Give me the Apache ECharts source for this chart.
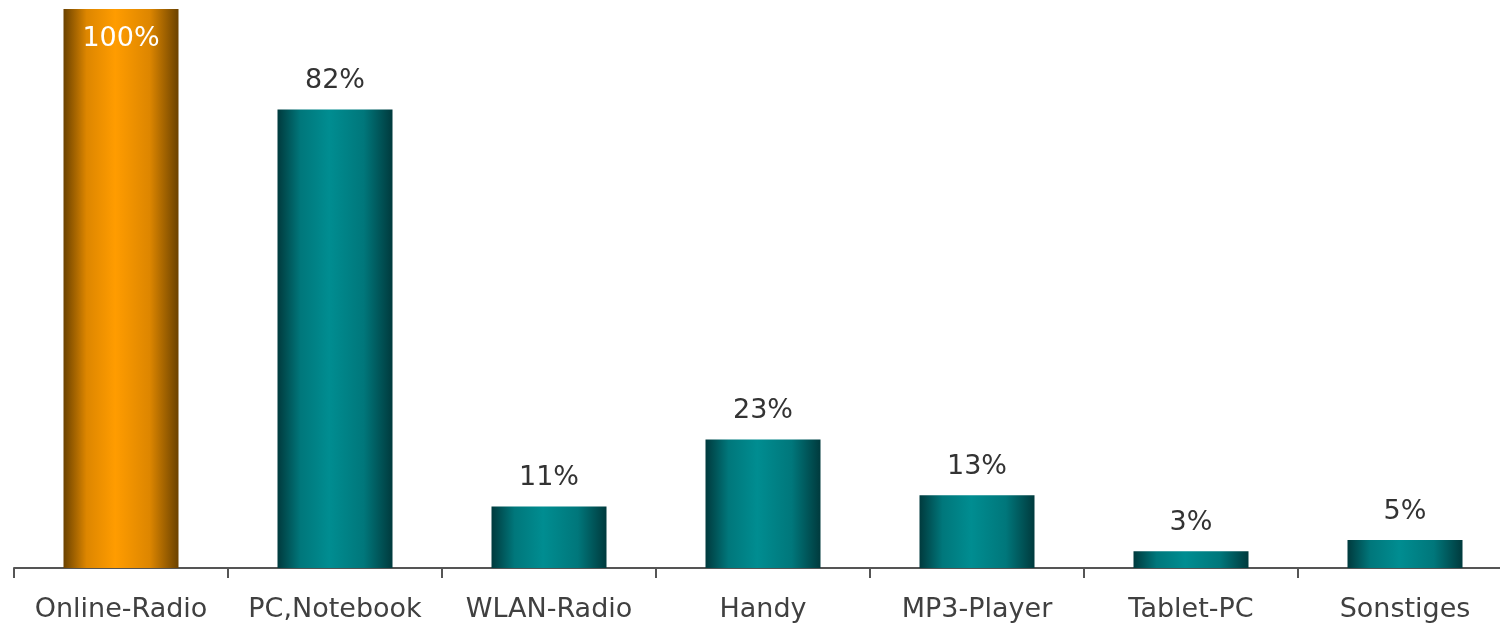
<!DOCTYPE html>
<html>
<head>
<meta charset="utf-8">
<script src="https://cdn.jsdelivr.net/npm/echarts@6/dist/echarts.min.js"></script>
<style>
html,body{margin:0;padding:0;background:#fff;overflow:hidden;width:1500px;height:623px;}
#chart{width:1512px;height:623px;}
</style>
</head>
<body>
<div id="chart"></div>
<script>
const categories = ['Online-Radio', 'PC,Notebook', 'WLAN-Radio', 'Handy', 'MP3-Player', 'Tablet-PC', 'Sonstiges'];
const values = [100, 82, 11, 23, 13, 3, 5];

function grad(dark, mid, light) {
  return new echarts.graphic.LinearGradient(0, 0, 1, 0, [
    {offset: 0, color: dark},
    {offset: 0.2, color: mid},
    {offset: 0.45, color: light},
    {offset: 0.75, color: mid},
    {offset: 1, color: dark}
  ]);
}
const orange = grad('#6b4200', '#dd8600', '#ff9c00');
const teal = grad('#003a3d', '#00777b', '#008d91');

const chart = echarts.init(document.getElementById('chart'));
chart.setOption({
  animation: false,
  grid: {left: 14, right: 0, top: 9, bottom: 55, containLabel: false},
  xAxis: {
    type: 'category',
    data: categories,
    axisLine: {lineStyle: {color: '#555555', width: 2}},
    axisTick: {show: true, length: 10, lineStyle: {color: '#555555', width: 2}},
    axisLabel: {color: '#404040', fontFamily: 'DejaVu Sans', fontSize: 27, margin: 28, interval: 0}
  },
  yAxis: {type: 'value', min: 0, max: 100, show: false, splitLine: {show: false}},
  series: [{
    type: 'bar',
    barWidth: 115,
    data: values.map((v, i) => ({
      value: v,
      itemStyle: {color: i === 0 ? orange : teal},
      label: i === 0 ? {position: 'insideTop', distance: 16, color: '#ffffff'} : {}
    })),
    label: {
      show: true,
      position: 'top',
      distance: 15,
      formatter: '{c}%',
      color: '#333333',
      fontFamily: 'DejaVu Sans',
      fontSize: 27
    }
  }]
});
</script>
</body>
</html>
